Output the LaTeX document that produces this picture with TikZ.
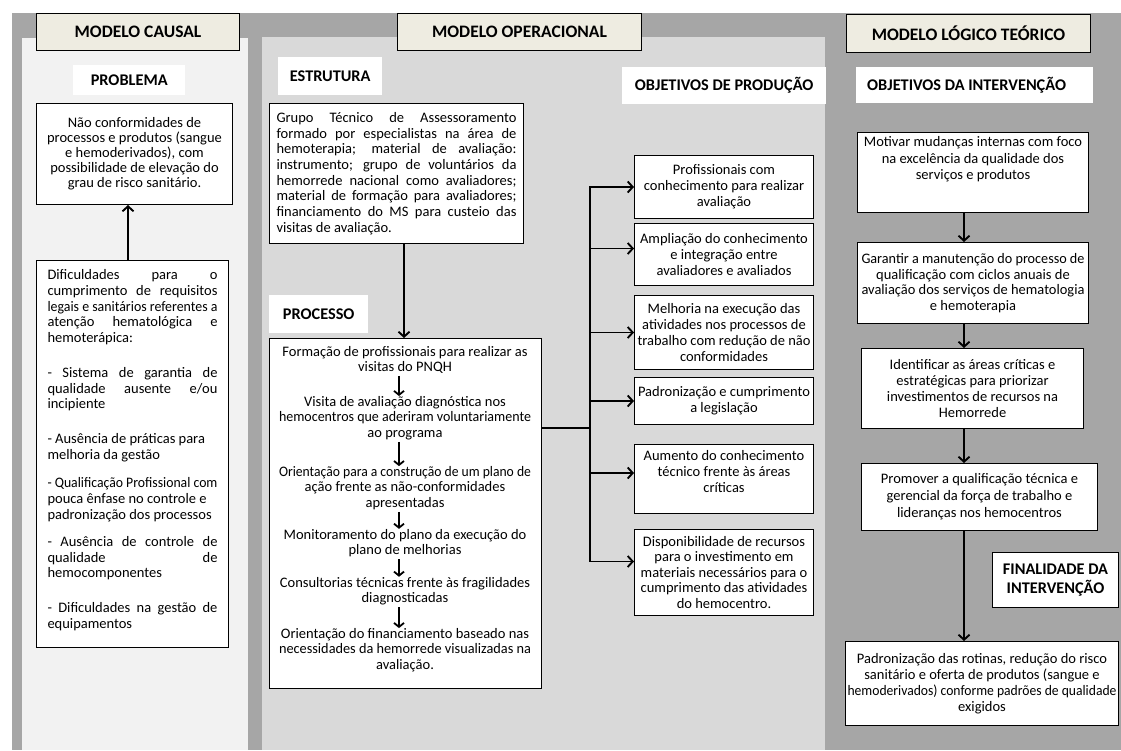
\documentclass[tikz,border=0pt]{standalone}
\usepackage{fontspec}
\usepackage{graphicx}
\setmainfont{Carlito}
\usetikzlibrary{arrows.meta}
\definecolor{dk}{HTML}{A6A6A6}
\definecolor{lt}{HTML}{F2F2F2}
\definecolor{md}{HTML}{D9D9D9}
\definecolor{hdr}{HTML}{EEECE1}
\newsavebox\tmpbx
\newcommand\fsz[2]{\fontsize{#1}{#2}\selectfont}
\newcommand\ctr[1]{\sbox\tmpbx{#1}\ifdim\wd\tmpbx>\linewidth\resizebox{\linewidth}{\height}{\usebox\tmpbx}\else\makebox[\linewidth][c]{\usebox\tmpbx}\fi\par}
\newcommand\lft[1]{\sbox\tmpbx{#1}\ifdim\wd\tmpbx>\linewidth\resizebox{\linewidth}{\height}{\usebox\tmpbx}\else\makebox[\linewidth][l]{\usebox\tmpbx}\fi\par}
\newcommand\jst[1]{\sbox\tmpbx{#1}\ifdim\wd\tmpbx>\linewidth\resizebox{\linewidth}{\height}{\usebox\tmpbx}\else\makebox[\linewidth][s]{#1}\fi\par}
\newcommand\pbx[4]{\parbox[c][#2pt][#3]{#1pt}{#4}}
\newcommand\pit[1]{\parbox{252pt}{\fsz{14.5}{15.5}#1}}
\tikzset{
 hdrbox/.style={draw=black, line width=1pt, fill=hdr, anchor=north west, inner sep=0pt, font=\fsz{17.5}{20}\bfseries},
 lbl/.style={fill=white, anchor=north west, inner sep=0pt, font=\fsz{16.3}{18}\bfseries},
 tbox/.style={draw=black, line width=1pt, fill=white, anchor=north west, inner xsep=4pt, inner ysep=4pt},
 pitem/.style={anchor=center, inner sep=0pt},
 arr/.style={line width=1.9pt, -{Straight Barb[length=5pt,width=11pt]}},
 parr/.style={line width=1.8pt, -{Straight Barb[length=4pt,width=10pt]}, shorten <=2pt},
 ln/.style={line width=1.9pt},
}
\begin{document}
\begin{tikzpicture}[x=1pt,y=-1pt]
\useasboundingbox (0,0) rectangle (1121,750);
% backgrounds
\fill[dk] (12,13) rectangle (1121,750);
\fill[lt] (22,38) rectangle (248,750);
\fill[md] (262,37) rectangle (825,750);
% headers
\node[hdrbox, minimum width=203pt, minimum height=37pt] (hc) at (36,13) {MODELO CAUSAL};
\node[hdrbox, minimum width=244pt, minimum height=37pt] (ho) at (397,13) {MODELO OPERACIONAL};
\node[hdrbox, minimum width=244pt, minimum height=38pt] (hl) at (846,14) {MODELO LÓGICO TEÓRICO};
% labels
\node[lbl, minimum width=112pt, minimum height=30pt] (lprob) at (73,65) {PROBLEMA};
\node[lbl, minimum width=104pt, minimum height=38pt] (lest) at (278,57) {ESTRUTURA};
\node[lbl, minimum width=99pt, minimum height=38pt] (lproc) at (269,295) {PROCESSO};
\node[lbl, minimum width=204pt, minimum height=37pt] (lobjp) at (622,67) {OBJETIVOS DE PRODUÇÃO};
\node[lbl, minimum height=36pt, inner xsep=11pt] (lobji) at (856,67) {\makebox[215pt][l]{OBJETIVOS DA INTERVENÇÃO}};
% causal column
\node[tbox] (bprob) at (36,103) {\pbx{188}{93}{c}{\fsz{14.5}{15}%
\ctr{Não conformidades de}\ctr{processos e produtos (sangue}\ctr{e hemoderivados), com}\ctr{possibilidade de elevação do}\ctr{grau de risco sanitário.}}};
\node[tbox, inner xsep=11pt, inner ysep=9pt] (bdif) at (36,260) {\pbx{170}{369}{t}{\fsz{14.5}{15.75}%
\jst{Dificuldades para o}\jst{cumprimento de requisitos}\jst{legais e sanitários referentes a}\jst{atenção hematológica e}\lft{hemoterápica:}\vspace{19pt}
\jst{- Sistema de garantia de}\jst{qualidade ausente e/ou}\lft{incipiente}\vspace{19pt}
\lft{- Ausência de práticas para}\lft{melhoria da gestão}\vspace{12.5pt}
\lft{- Qualificação Profissional com}\lft{pouca ênfase no controle e}\lft{padronização dos processos}\vspace{11.5pt}
\jst{- Ausência de controle de}\jst{qualidade de}\lft{hemocomponentes}\vspace{19pt}
\jst{- Dificuldades na gestão de}\lft{equipamentos}}};
\coordinate (xl) at (128,0);
\draw[arr] (bdif.north -| xl) -- (bprob.south -| xl);
% operational column
\node[tbox, inner xsep=7pt, inner ysep=4pt] (best) at (269,103) {\pbx{240}{132}{c}{\fsz{14.5}{15.7}%
\jst{Grupo Técnico de Assessoramento}\jst{formado por especialistas na área de}\jst{hemoterapia; material de avaliação:}\jst{instrumento; grupo de voluntários da}\jst{hemorrede nacional como avaliadores;}\jst{material de formação para avaliadores;}\jst{financiamento do MS para custeio das}\lft{visitas de avaliação.}}};
\node[tbox, inner sep=0pt, minimum width=272pt, minimum height=350pt] (bproc) at (269,338) {};
\coordinate (xm) at (404,0);
\draw[arr] (best.south -| xm) -- (bproc.north -| xm);
\node[pitem] (p1) at (405,360) {\pit{\ctr{Formação de profissionais para realizar as}\ctr{visitas do PNQH}}};
\node[pitem] (p2) at (405,418) {\pit{\ctr{Visita de avaliação diagnóstica nos}\ctr{hemocentros que aderiram voluntariamente}\ctr{ao programa}}};
\node[pitem] (p3) at (405,488) {\pit{\ctr{Orientação para a construção de um plano de}\ctr{ação frente as não-conformidades}\ctr{apresentadas}}};
\node[pitem] (p4) at (405,543) {\pit{\ctr{Monitoramento do plano da execução do}\ctr{plano de melhorias}}};
\node[pitem] (p5) at (405,591) {\pit{\ctr{Consultorias técnicas frente às fragilidades}\ctr{diagnosticadas}}};
\node[pitem] (p6) at (405,650) {\pit{\ctr{Orientação do financiamento baseado nas}\ctr{necessidades da hemorrede visualizadas na}\ctr{avaliação.}}};
\coordinate (xa) at (399,0);
\draw[parr] (p1.south -| xa) -- (p2.north -| xa);
\draw[parr] (p2.south -| xa) -- (p3.north -| xa);
\draw[parr] (p3.south -| xa) -- (p4.north -| xa);
\draw[parr] (p4.south -| xa) -- (p5.north -| xa);
\draw[parr] (p5.south -| xa) -- (p6.north -| xa);
% production objectives
\node[tbox, inner xsep=3pt] (o1) at (634,155) {\pbx{173}{55}{c}{\fsz{14.5}{16}%
\ctr{Profissionais com}\ctr{conhecimento para realizar}\ctr{avaliação}}};
\node[tbox, inner xsep=3pt] (o2) at (634,223) {\pbx{173}{54}{c}{\fsz{14.5}{16}%
\ctr{Ampliação do conhecimento}\ctr{e integração entre}\ctr{avaliadores e avaliados}}};
\node[tbox, inner xsep=3pt] (o3) at (634,295) {\pbx{173}{66}{c}{\fsz{14.5}{16}%
\ctr{Melhoria na execução das}\ctr{atividades nos processos de}\ctr{trabalho com redução de não}\ctr{conformidades}}};
\node[tbox, inner xsep=3pt] (o4) at (634,377) {\pbx{173}{39}{c}{\fsz{14.5}{16}%
\ctr{Padronização e cumprimento}\ctr{a legislação}}};
\node[tbox, inner xsep=3pt] (o5) at (634,444) {\pbx{173}{61}{t}{\fsz{14.5}{16}\vspace*{2pt}%
\ctr{Aumento do conhecimento}\ctr{técnico frente às áreas}\ctr{críticas}}};
\node[tbox, inner xsep=3pt] (o6) at (634,529) {\pbx{173}{78}{c}{\fsz{14.5}{15.5}%
\ctr{Disponibilidade de recursos}\ctr{para o investimento em}\ctr{materiais necessários para o}\ctr{cumprimento das atividades}\ctr{do hemocentro.}}};
\coordinate (tk) at (590,428);
\coordinate (a1) at (o1.west);
\coordinate (a2) at ([yshift=6pt]o2.west);
\coordinate (a3) at (o3.west);
\coordinate (a4) at (o4.west);
\coordinate (a5) at ([yshift=6pt]o5.west);
\coordinate (a6) at ([yshift=11pt]o6.west);
\draw[ln] (bproc.east |- tk) -- (tk);
\draw[ln, line cap=rect] (tk |- a1) -- (tk |- a6);
\foreach \i in {1,...,6} { \draw[arr] (tk |- a\i) -- (a\i); }
% logical column
\node[tbox] (r1) at (857,132) {\pbx{223}{72}{t}{\fsz{14.5}{16.7}%
\ctr{Motivar mudanças internas com foco}\ctr{na excelência da qualidade dos}\ctr{serviços e produtos}}};
\node[tbox] (r2) at (857,242) {\pbx{223}{73}{c}{\fsz{14.5}{15.5}%
\ctr{Garantir a manutenção do processo de}\ctr{qualificação com ciclos anuais de}\ctr{avaliação dos serviços de hematologia}\ctr{e hemoterapia}}};
\node[tbox] (r3) at (861,348) {\pbx{214}{72}{c}{\fsz{14.5}{16}%
\ctr{Identificar as áreas críticas e}\ctr{estratégicas para priorizar}\ctr{investimentos de recursos na}\ctr{Hemorrede}}};
\node[tbox] (r4) at (861,463) {\pbx{228}{59}{c}{\fsz{14.5}{17}%
\ctr{Promover a qualificação técnica e}\ctr{gerencial da força de trabalho e}\ctr{lideranças nos hemocentros}}};
\node[tbox, inner xsep=2pt] (r5) at (845,641) {\pbx{269}{76}{c}{\fsz{14.5}{16}%
\ctr{Padronização das rotinas, redução do risco}\ctr{sanitário e oferta de produtos (sangue e}\ctr{hemoderivados) conforme padrões de qualidade}\ctr{exigidos}}};
\node[tbox, inner sep=0pt, minimum width=126pt, minimum height=55pt, align=center, font=\fsz{16.3}{19}\bfseries] (lfin) at (992,552) {FINALIDADE DA\\INTERVENÇÃO};
\coordinate (xr) at (964,0);
\draw[arr] (r1.south -| xr) -- (r2.north -| xr);
\draw[arr] (r2.south -| xr) -- (r3.north -| xr);
\draw[arr] (r3.south -| xr) -- (r4.north -| xr);
\draw[arr] (r4.south -| xr) -- (r5.north -| xr);
\end{tikzpicture}
\end{document}
